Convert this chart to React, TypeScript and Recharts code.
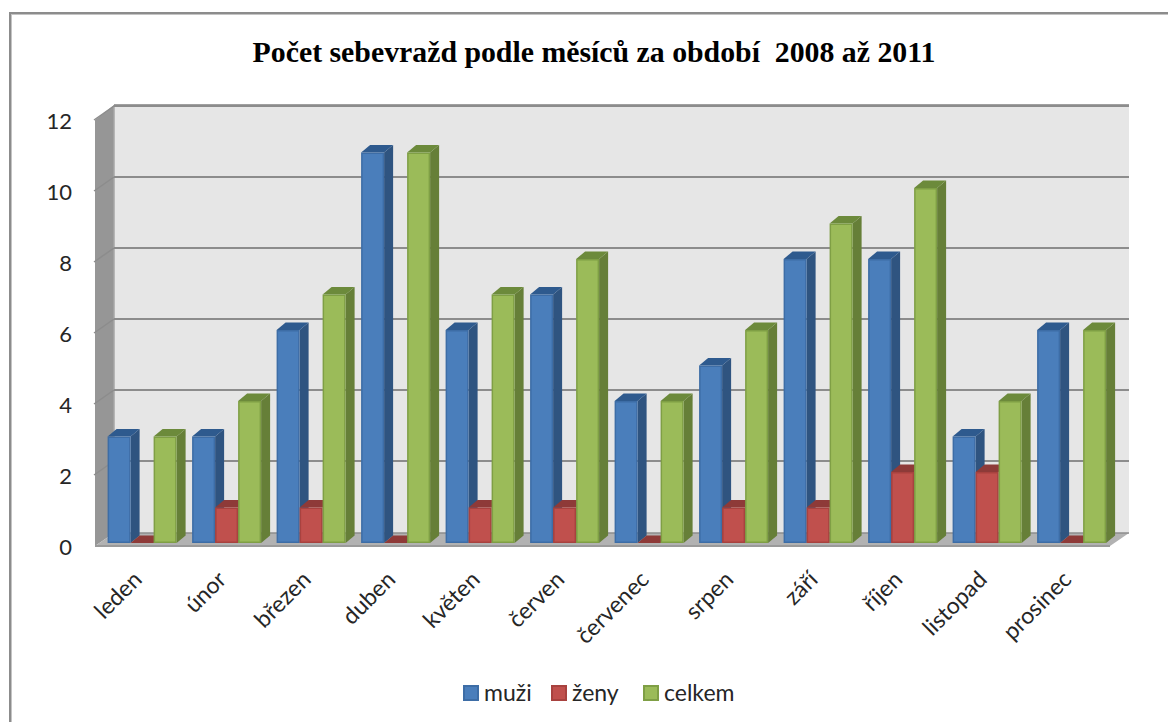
import React from 'react';
import { BarChart, Bar, XAxis, YAxis, CartesianGrid, Legend } from 'recharts';

const months = ['leden', 'únor', 'březen', 'duben', 'květen', 'červen', 'červenec', 'srpen', 'září', 'říjen', 'listopad', 'prosinec'];
const muzi = [3, 3, 6, 11, 6, 7, 4, 5, 8, 8, 3, 6];
const zeny = [0, 1, 1, 0, 1, 1, 0, 1, 1, 2, 2, 0];
const celkem = [3, 4, 7, 11, 7, 8, 4, 6, 9, 10, 4, 6];
const yTicks = [0, 2, 4, 6, 8, 10, 12];

const data = months.map((name, i) => ({ name, muzi: muzi[i], zeny: zeny[i], celkem: celkem[i] }));

const FONT = 'Lato, "Open Sans", sans-serif';

// plot box of the chart; the fake 3D walls hang off these
const PLOT = { left: 100, right: 1114, top: 117, bottom: 543 };
const WALL = { front: 95, back: 114, end: 1129, floorFront: 546, floorBack: 533, top: 105, endFront: 1110 };
const AXIS_W = 60;
const AXIS_H = 100;
const LEGEND_H = 30;

const PALETTE = {
  muzi: { front: '#4A7EBB', edge: '#3D6DA6', side: '#2F5480', top: '#2E5A8E' },
  zeny: { front: '#C0504D', edge: '#A8423F', side: '#8A3836', top: '#8E3A38' },
  celkem: { front: '#9BBB59', edge: '#7F9F45', side: '#667F38', top: '#6C8A3B' },
};

// one bar as a small extruded box
function box(colors: typeof PALETTE.muzi) {
  return (props: any) => {
    const { x, y, width, height } = props;
    const dx = 9;
    const dy = 7.5;
    const r = x + width;
    const b = y + height;
    return (
      <g>
        <polygon points={`${r},${y} ${r + dx},${y - dy} ${r + dx},${b - dy} ${r},${b}`} fill={colors.side} />
        <polygon points={`${x},${y} ${x + dx},${y - dy} ${r + dx},${y - dy} ${r},${y}`} fill={colors.top} />
        {height > 0 && (
          <rect x={x + 0.75} y={y + 0.75} width={width - 1.5} height={height - 1.5} fill={colors.front} stroke={colors.edge} strokeWidth={1.5} />
        )}
      </g>
    );
  };
}

// back wall, side wall and floor, sitting under the chart's own svg
function Walls() {
  const { front, back, end, endFront, floorFront, floorBack, top } = WALL;
  return (
    <svg width={1168} height={722} style={{ position: 'absolute', left: 0, top: 0 }}>
      <rect x={back} y={top} width={end - back} height={floorBack - top} fill="#E6E6E6" />
      <line x1={back} y1={top} x2={end} y2={top} stroke="#A0A0A0" strokeWidth={2} />
      <polygon points={`${front},${top + 15} ${back},${top} ${back},${floorBack} ${front},${floorFront}`} fill="#969696" />
      <line x1={back} y1={top} x2={back} y2={floorBack} stroke="#A6A6A6" strokeWidth={1.5} />
      <polygon points={`${front},${floorFront} ${back},${floorBack} ${end},${floorBack} ${endFront},${floorFront}`} fill="#B2B2B2" />
      <line x1={front} y1={floorFront} x2={endFront} y2={floorFront} stroke="#9A9A9A" strokeWidth={2} />
    </svg>
  );
}

function gridLine(props: any) {
  const { y1 } = props;
  const { front, back, end } = WALL;
  if (y1 >= PLOT.bottom) {
    return <line key="floor" x1={back} y1={y1 - 10} x2={end} y2={y1 - 10} stroke="#8C8C8C" strokeWidth={1.5} />;
  }
  const backY = y1 - 11;
  return (
    <g key={y1}>
      <line x1={back} y1={backY} x2={end} y2={backY} stroke="#8C8C8C" strokeWidth={2} />
      <line x1={front - 1} y1={y1 + 3} x2={back} y2={backY} stroke="#8C8C8C" strokeWidth={1.5} />
    </g>
  );
}

function MonthTick({ x, y, payload }: any) {
  const ax = x + 1;
  const ay = y + 30;
  return (
    <text x={ax} y={ay} transform={`rotate(-45 ${ax} ${ay})`} textAnchor="end" fontFamily={FONT} fontSize={23} fill="#262626">
      {payload.value}
    </text>
  );
}

function ValueTick({ y, payload }: any) {
  return (
    <text x={72} y={y + 12} textAnchor="end" fontFamily={FONT} fontSize={22} fill="#262626">
      {payload.value}
    </text>
  );
}

const legendItems = [
  { label: 'muži', colors: PALETTE.muzi, left: 463 },
  { label: 'ženy', colors: PALETTE.zeny, left: 551 },
  { label: 'celkem', colors: PALETTE.celkem, left: 643 },
];

function ChartLegend() {
  return (
    <div style={{ position: 'relative', height: LEGEND_H, width: 1168 }}>
      {legendItems.map((it) => (
        <React.Fragment key={it.label}>
          <span
            style={{
              position: 'absolute',
              left: it.left,
              top: 8,
              width: 12,
              height: 12,
              background: it.colors.front,
              border: `2px solid ${it.colors.edge}`,
            }}
          />
          <span
            style={{
              position: 'absolute',
              left: it.left + 21,
              top: 0,
              fontFamily: FONT,
              fontSize: 23,
              lineHeight: '30px',
              color: '#262626',
            }}
          >
            {it.label}
          </span>
        </React.Fragment>
      ))}
    </div>
  );
}

export default function App() {
  return (
    <div style={{ position: 'absolute', left: 0, top: 0, width: 1168, height: 722, background: '#fff', overflow: 'hidden' }}>
      {/* chart frame: only the top and left edges fall inside the page */}
      <div style={{ position: 'absolute', left: 9, top: 12, width: 1200, height: 760, borderLeft: '2px solid #8c8c8c', borderTop: '2px solid #8c8c8c', boxShadow: 'inset 1px 1px 0 #c4c4c4' }} />
      <div
        style={{
          position: 'absolute',
          left: 0,
          top: 32,
          width: 1188,
          textAlign: 'center',
          fontFamily: '"Liberation Serif", serif',
          fontWeight: 700,
          fontSize: 29.8,
          lineHeight: '40px',
          color: '#000',
          whiteSpace: 'pre',
        }}
      >
        Počet sebevražd podle měsíců za období  2008 až 2011
      </div>
      <Walls />
      <BarChart
        width={1168}
        height={722}
        data={data}
        barGap={0}
        barCategoryGap="9%"
        margin={{ left: PLOT.left - AXIS_W, right: 1168 - PLOT.right, top: PLOT.top, bottom: 722 - PLOT.bottom - AXIS_H - LEGEND_H }}
        style={{ position: 'absolute', left: 0, top: 0 }}
      >
        <CartesianGrid vertical={false} horizontal={gridLine} />
        <XAxis dataKey="name" axisLine={false} tickLine={false} interval={0} height={AXIS_H} tick={<MonthTick />} />
        <YAxis domain={[0, 12]} ticks={yTicks} axisLine={false} tickLine={false} width={AXIS_W} tick={<ValueTick />} />
        <Legend
          content={<ChartLegend />}
          wrapperStyle={{ position: 'absolute', left: 0, top: 677, width: 1168, height: LEGEND_H }}
        />
        <Bar dataKey="muzi" name="muži" isAnimationActive={false} shape={box(PALETTE.muzi)} />
        <Bar dataKey="zeny" name="ženy" isAnimationActive={false} shape={box(PALETTE.zeny)} />
        <Bar dataKey="celkem" name="celkem" isAnimationActive={false} shape={box(PALETTE.celkem)} />
      </BarChart>
    </div>
  );
}
